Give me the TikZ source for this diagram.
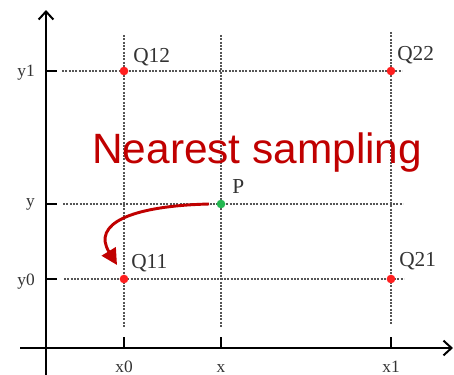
\documentclass[tikz,border=0pt]{standalone}
\usepackage{fontspec}
\setmainfont{Liberation Serif}
\newfontfamily\titlesans{Liberation Sans}
\usetikzlibrary{arrows.meta}

\begin{document}
\begin{tikzpicture}[x=0.75pt,y=-0.75pt,font=\fontsize{13}{15}\selectfont]
  \definecolor{gtext}{HTML}{333333}
  \definecolor{ggrid}{HTML}{555555}
  \definecolor{gred}{HTML}{FF1F1F}
  \definecolor{ggreen}{HTML}{22B850}
  \definecolor{darkred}{HTML}{C00000}
  \tikzset{
    gridline/.style={ggrid,line width=0.85pt,dash pattern=on 1.6pt off 0.9pt},
    axisline/.style={black,line width=1.5pt},
    sample/.style={circle,fill=gred,inner sep=0pt,minimum size=6.5pt},
    ptlabel/.style={anchor=base west,text=gtext,inner sep=0pt,font=\fontsize{16}{18}\selectfont},
    axlabel/.style={text=gtext,inner sep=0pt}
  }
  \useasboundingbox (0,0) rectangle (454,375);
  % dashed grid
  \foreach \gx/\ya/\yb in {124/35/328, 221/35/328, 391/32/325}
    \draw[gridline] (\gx,\ya) -- (\gx,\yb);
  \foreach \gy/\xa/\xb in {71/62/402, 204/63/403, 279/64/404}
    \draw[gridline] (\xa,\gy) -- (\xb,\gy);
  % axes
  \draw[axisline,-{Straight Barb[length=6pt,width=11pt]}] (46,375) -- (46,10);
  \draw[axisline,-{Straight Barb[length=6pt,width=11pt]}] (20,348) -- (453,348);
  \foreach \gy/\by/\name in {71/76/y1, 204/206/y, 279/285/y0} {
    \draw[axisline] (46,\gy) -- (57,\gy);
    \node[axlabel,anchor=base east] at (35,\by) {\name};
  }
  \foreach \gx/\name in {124/x0, 221/x, 391/x1} {
    \draw[axisline] (\gx,337) -- (\gx,348);
    \node[axlabel,anchor=base] at (\gx,372) {\name};
  }
  % sample points
  \node[sample] (Q12) at (124,71) {};
  \node[sample] (Q22) at (391,71) {};
  \node[sample] (Q11) at (124,279) {};
  \node[sample] (Q21) at (391,279) {};
  \node[sample,fill=ggreen] (P) at (221,204) {};
  \node[ptlabel] (lQ12) at (133,62) {Q12};
  \node[ptlabel] (lQ22) at (397,60) {Q22};
  \node[ptlabel] (lQ11) at (131,268) {Q11};
  \node[ptlabel] (lQ21) at (399,266) {Q21};
  \node[ptlabel] (lP) at (232,193) {P};
  \node[anchor=base west,inner sep=0pt,text=darkred,
    font=\titlesans\fontsize{31.8}{36}\selectfont] (title) at (92,163) {Nearest sampling};
  % nearest neighbour arrow
  \coordinate (tip) at (117,265);
  \draw[darkred,line width=2.2pt,-{Triangle[length=12pt,width=12pt]}]
    ([xshift=-9]P.center) .. controls (130,206) and (92,224) .. (tip);
\end{tikzpicture}
\end{document}
